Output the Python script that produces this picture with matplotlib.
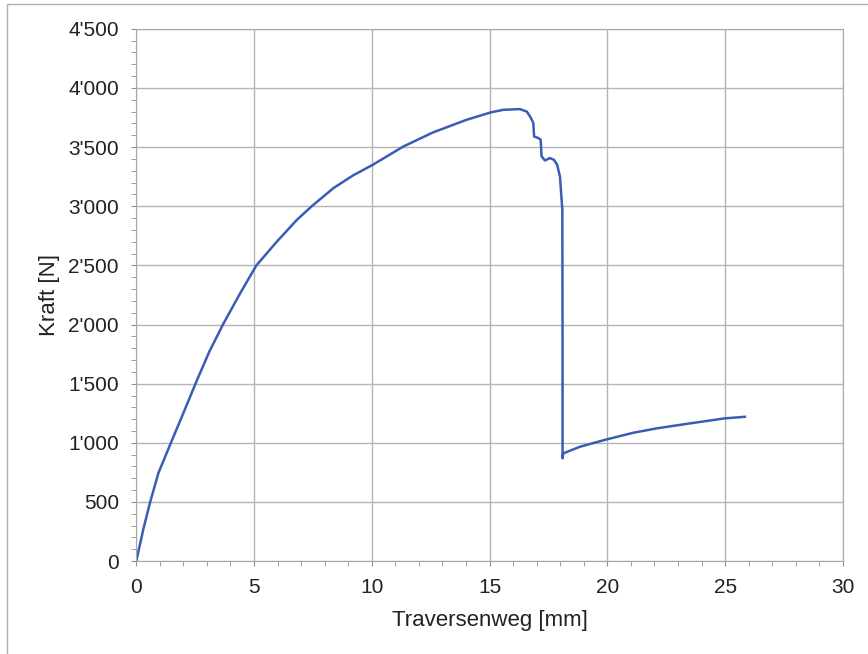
import matplotlib
matplotlib.use("Agg")
import matplotlib.pyplot as plt
from matplotlib.ticker import MultipleLocator, FuncFormatter
from matplotlib.patches import Rectangle

plt.rcParams['font.family'] = ['Liberation Sans', 'DejaVu Sans']

# Traversenweg [mm] and Kraft [N]
weg = [0.0, 0.3, 0.59, 0.94, 1.47, 2.0, 2.6, 3.1, 3.68, 4.4, 5.1, 5.97, 6.82, 7.45,
       8.37, 9.2, 10.04, 11.34, 12.6, 14.03, 15.05, 15.58, 16.29, 16.58, 16.72, 16.86,
       16.89, 17.07, 17.17, 17.21, 17.35, 17.56, 17.73, 17.87, 17.99, 18.06, 18.09,
       18.1, 18.1, 18.13, 18.84, 19.97, 21.1, 22.09, 23.5, 25.0, 25.84]
kraft = [0, 270, 500, 745, 1000, 1252, 1540, 1770, 2000, 2260, 2500, 2701, 2885, 3000,
         3153, 3260, 3350, 3505, 3624, 3731, 3793, 3815, 3821, 3800, 3759, 3703,
         3590, 3576, 3562, 3421, 3387, 3407, 3393, 3350, 3251, 3054, 2970,
         1800, 869, 911, 967, 1029, 1085, 1122, 1164, 1207, 1220]

fig = plt.figure(figsize=(8.68, 6.54), dpi=100)
ax = fig.add_axes([0.157, 0.142, 0.814, 0.814])

ax.plot(weg, kraft, color='#3a5cb4', linewidth=1.8, solid_joinstyle='round')

ax.set_xlim(0, 30)
ax.set_ylim(0, 4500)
ax.xaxis.set_major_locator(MultipleLocator(5))
ax.xaxis.set_minor_locator(MultipleLocator(1))
ax.yaxis.set_major_locator(MultipleLocator(500))
ax.yaxis.set_minor_locator(MultipleLocator(100))
ax.yaxis.set_major_formatter(FuncFormatter(lambda v, p: f"{int(v):,}".replace(",", "'")))

ax.grid(True, which='major', color='#b4b4b4', linewidth=1.0)
ax.set_axisbelow(True)
for s in ax.spines.values():
    s.set_color('#a8a8a8')
ax.tick_params(which='both', direction='out', color='#909090', length=3.5,
               labelsize=15, labelcolor='#222222', pad=9)

ax.set_xlabel('Traversenweg [mm]', fontsize=16, color='#222222', labelpad=9)
ax.set_ylabel('Kraft [N]', fontsize=16, color='#222222', labelpad=6)

fig.patches.append(Rectangle((0.008, -0.1), 1.1, 1.094, transform=fig.transFigure,
                             fill=False, edgecolor='#b0b0b0', linewidth=1.0))

fig.savefig('out.png', dpi=100)
